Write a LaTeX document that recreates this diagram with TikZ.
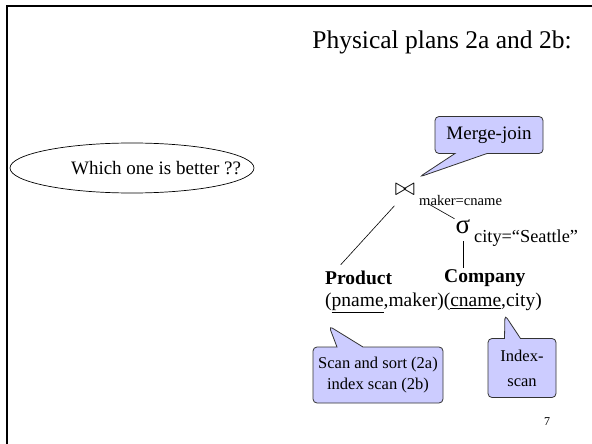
\documentclass[tikz,border=0pt]{standalone}
\usepackage{fontspec}
\setmainfont{Liberation Serif}
\usepackage{tikz}
\usetikzlibrary{positioning,shapes.geometric,shapes.callouts}
\definecolor{notefill}{RGB}{204,204,255}

\begin{document}
\begin{tikzpicture}[x=1pt,y=-1pt, every node/.style={inner sep=1pt},
  note/.style={rectangle callout,draw=black!80,line width=0.8pt,rounded corners=4pt,fill=notefill,align=center,font=\fontsize{16.5}{21}\selectfont},
  ask/.style={ellipse,draw,line width=0.7pt,minimum width=244pt,minimum height=50pt},
  rel/.style={font=\fontsize{19.5}{22}\selectfont},
  edge/.style={line width=0.6pt}]
  \useasboundingbox (0,0) rectangle (592,444);
  \draw[line width=2.5pt] (592,6) -- (7,6) -- (7,444);
  \node[font=\fontsize{25.5}{30}\selectfont] (ttl) at (442,42) {Physical plans 2a and 2b:};
  \node[ask,label={[font=\fontsize{19}{22}\selectfont,xshift=24pt]center:Which one is better ??}] (q) at (132,168) {};
  \node[font=\fontsize{24}{24}\selectfont] (jn) at (405,190) {$\bowtie$};
  \node[font=\fontsize{14.6}{16}\selectfont,anchor=base west] (jcond) at (418,205) {maker=cname};
  \node[font=\fontsize{27}{27}\selectfont] (sel) at (463,227) {σ};
  \node[font=\fontsize{18.3}{20}\selectfont,anchor=base west] (scond) at (473,242) {city=“Seattle”};
  \node[rel,anchor=west] (attr) at (324,303) {(\underline{pname},maker)(\underline{cname},city)};
  \node[rel,font=\fontsize{19.5}{22}\bfseries,anchor=west] (prod) at (324,278) {Product};
  \node[rel,font=\fontsize{19.5}{22}\bfseries,anchor=west] (comp) at (443,278) {Company};
  \draw[edge,shorten <=12pt,shorten >=7pt] (jn.250) -- ([xshift=12pt]prod.north west);
  \draw[edge,shorten <=15pt] (jn.south east) -- (sel.north west);
  \draw[edge,shorten <=6pt] (sel.south) -- (sel.south |- comp.north);
  \node[note,font=\fontsize{19}{22}\selectfont,minimum width=108pt,minimum height=37pt,callout pointer width=32pt,
    callout absolute pointer={([xshift=3pt,yshift=6pt]jn.north east)}] (mj) at (489,135) {Merge-join};
  \node[note,minimum width=130pt,minimum height=56pt,callout pointer width=26pt,
    callout absolute pointer={([xshift=5pt,yshift=-12pt]attr.south west)}] (ss) at (378,375) {Scan and sort (2a)\\index scan (2b)};
  \node[note,font=\fontsize{16.5}{25}\selectfont,minimum width=68pt,minimum height=59pt,callout pointer width=16pt,
    callout absolute pointer={([xshift=-38pt,yshift=-1pt]attr.south east)}] (is) at (522,368) {Index-\\scan};
  \node[font=\fontsize{12}{12}\selectfont] (pg) at (547,422) {7};
\end{tikzpicture}
\end{document}
